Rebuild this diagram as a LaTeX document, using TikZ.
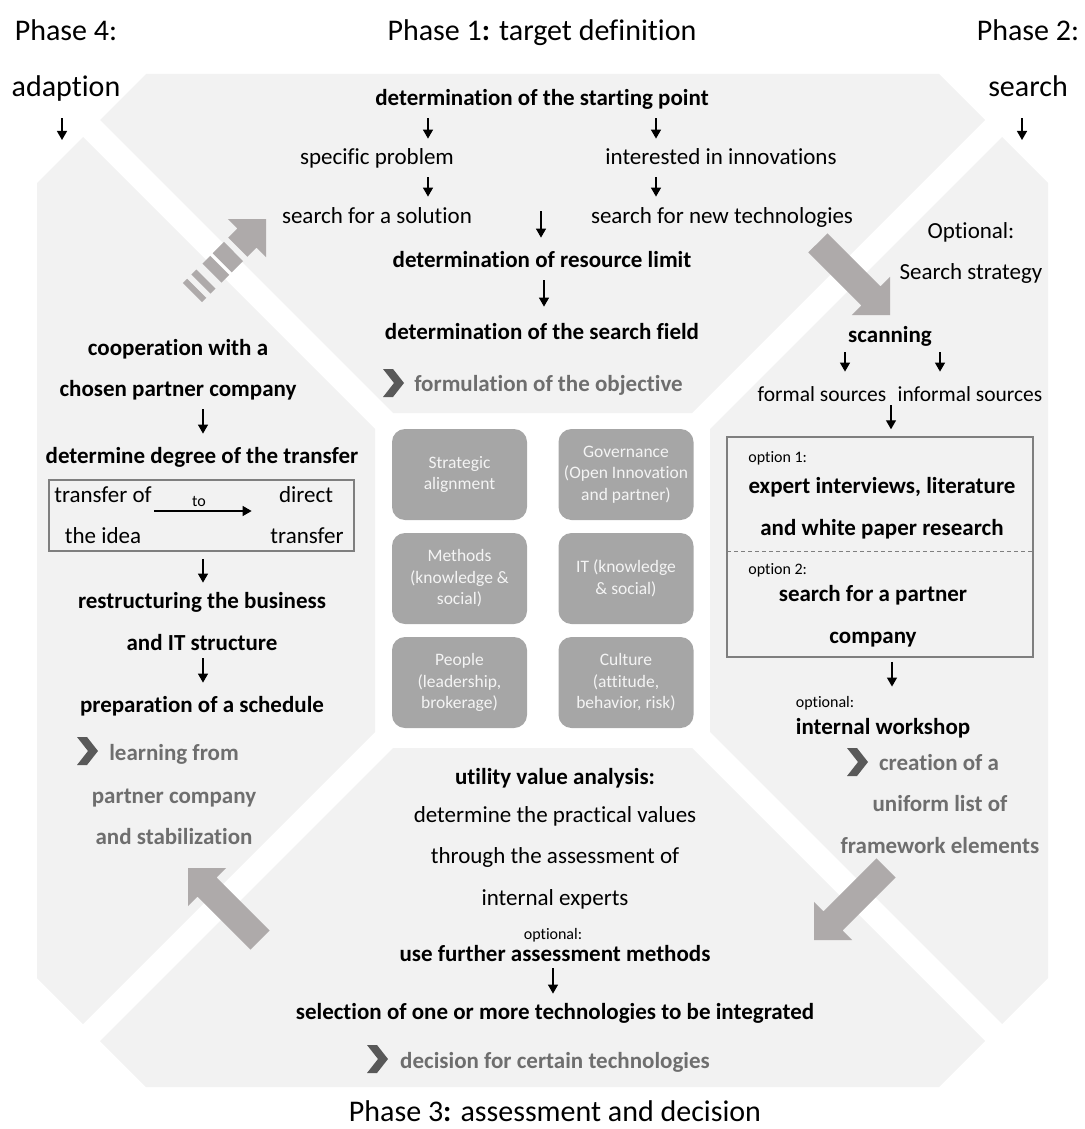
\documentclass[tikz,border=0pt]{standalone}
\usepackage{fontspec}
\setmainfont{Carlito}[Ligatures=NoCommon]
\usetikzlibrary{arrows.meta}

\definecolor{panelgray}{HTML}{F2F2F2}
\definecolor{tilegray}{HTML}{A6A6A6}
\definecolor{tiletext}{HTML}{F4F4F4}
\definecolor{arrowgray}{HTML}{AEAAAA}
\definecolor{chevgray}{HTML}{595959}
\definecolor{graytext}{HTML}{6E6E6E}
\definecolor{frameline}{HTML}{7F7F7F}

\tikzset{
  body/.style={inner sep=0pt, font=\fontsize{11.5}{14}\selectfont, text height=9.5pt, text depth=1pt},
  bodyb/.style={body, font=\fontsize{11.5}{14}\selectfont\bfseries},
  bodysm/.style={body, font=\fontsize{10.75}{13}\selectfont},
  grayb/.style={bodyb, text=graytext},
  small/.style={inner sep=0pt, font=\fontsize{8}{10}\selectfont, text height=7pt, text depth=0.25pt},
  phase/.style={inner sep=0pt, font=\fontsize{15}{18}\selectfont, text height=11.75pt, text depth=1.25pt},
  tile/.style={fill=tilegray, text=tiletext, rounded corners=6.5pt, minimum width=67.5pt,
    minimum height=45.5pt, inner sep=0pt, align=center, font=\fontsize{8.75}{10.75}\selectfont},
  frame/.style={draw=frameline, line width=0.75pt, inner sep=0pt},
  arr/.style={line width=0.65pt, -{Triangle[length=4.5pt,width=5pt]}, shorten <=5.25pt, shorten >=3.5pt},
  panel/.style={fill=panelgray},
  bigarrow/.style={fill=arrowgray},
  chev/.style={fill=chevgray},
  divider/.style={draw=frameline, line width=0.5pt, dash pattern=on 2pt off 1.5pt},
}

\begin{document}
\begin{tikzpicture}[x=0.5pt, y=-0.5pt]
\useasboundingbox (0,0) rectangle (1084,1129);

% ---- the four phase panels ----
\fill[panel] (146,74) -- (939,74) -- (985,120) -- (692,413) -- (393,413) -- (100,120) -- cycle;
\fill[panel] (1002,137) -- (1048,183) -- (1048,978) -- (1002,1024) -- (710,732) -- (710,429) -- cycle;
\fill[panel] (83,137) -- (37,183) -- (37,978) -- (83,1024) -- (375,732) -- (375,429) -- cycle;
\fill[panel] (146,1087) -- (939,1087) -- (985,1041) -- (692,748) -- (393,748) -- (100,1041) -- cycle;

% ---- block arrows between the phases ----
% phase 1 -> phase 2
\fill[bigarrow] (827.4,233.4) -- (880.4,286.4) -- (890.0,276.8) -- (890,315) -- (851.8,315.0)
  -- (861.3,305.5) -- (808.3,252.4) -- cycle;
% phase 2 -> phase 3
\fill[bigarrow] (895.6,877.4) -- (842.6,930.4) -- (852.2,940.0) -- (814,940) -- (814.0,901.8)
  -- (823.5,911.3) -- (876.5,858.3) -- cycle;
% phase 3 -> phase 4
\fill[bigarrow] (269.6,930.5) -- (216.6,877.5) -- (226.2,868.0) -- (188,868) -- (188.0,906.2)
  -- (197.5,896.6) -- (250.5,949.6) -- cycle;
% phase 4 -> phase 1 (striped)
\fill[bigarrow] (266,219) -- (266.0,257.2) -- (256.5,247.6) -- (247.3,256.8) -- (228.2,237.7)
  -- (237.4,228.5) -- (227.8,219.0) -- cycle;
\fill[bigarrow] (243.0,261.1) -- (231.7,272.4) -- (212.7,253.3) -- (224.0,241.9) -- cycle;
\fill[bigarrow] (229.3,274.9) -- (221.5,282.7) -- (202.4,263.6) -- (210.2,255.8) -- cycle;
\fill[bigarrow] (215.5,288.6) -- (210.5,293.6) -- (191.4,274.5) -- (196.4,269.5) -- cycle;
\fill[bigarrow] (206.3,297.8) -- (202.0,302.0) -- (182.9,283.0) -- (187.2,278.8) -- cycle;

% ---- framework elements in the centre ----
\node[tile] (t1) at (459.5,474.5) {Strategic\\alignment};
\node[tile] (t2) at (626,474.5) {Governance\\(Open Innovation\\and partner)};
\node[tile] (t3) at (459.5,578.5) {Methods\\(knowledge \&\\social)};
\node[tile] (t4) at (626,578.5) {IT (knowledge\\\& social)};
\node[tile] (t5) at (459.5,682.5) {People\\(leadership,\\brokerage)};
\node[tile] (t6) at (626,682.5) {Culture\\(attitude,\\behavior, risk)};

% ---- phase titles ----
\node[phase] (p4a) at (66,30) {Phase 4:};
\node[phase] (p4b) at (66,86) {adaption};
\node[phase] (p1) at (542,30) {Phase 1\textbf{:} target definition};
\node[phase] (p2a) at (1028,30) {Phase 2:};
\node[phase] (p2b) at (1028,86) {search};
\node[phase, text depth=0pt] (p3) at (555,1110) {Phase 3\textbf{:} assessment and decision};
\coordinate (p4in) at (62,140);
\coordinate (p2in) at (1022,140);
\draw[arr, shorten <=9.5pt, shorten >=0pt] (p4b.south -| p4in) -- (p4in);
\draw[arr, shorten <=9.5pt, shorten >=0pt] (p2b.south -| p2in) -- (p2in);

% ---- phase 1: target definition ----
\node[bodyb] (start) at (542,97) {determination of the starting point};
\node[body] (prob) at (377,156) {specific problem};
\node[body] (innov) at (721,156) {interested in innovations};
\node[body] (sol) at (377,215) {search for a solution};
\node[body] (tech) at (722,215) {search for new technologies};
\node[bodyb] (res) at (542,259) {determination of resource limit};
\node[bodyb] (field) at (542,331) {determination of the search field};
\node[grayb] (obj) at (548.5,383) {formulation of the objective};
\fill[chev] (383,369) -- ++(10,0) -- ++(11,14) -- ++(-11,14) -- ++(-10,0) -- ++(11,-14) -- cycle;

\coordinate (cl) at (428,0);
\coordinate (cr) at (656,0);
\coordinate (cm) at (544,0);
\coordinate (merge) at (541,211);
\draw[arr, shorten >=3.25pt] (start.south -| cl) -- (prob.north -| cl);
\draw[arr, shorten >=3.25pt] (start.south -| cr) -- (innov.north -| cr);
\draw[arr, shorten >=3.75pt] (prob.south -| cl) -- (sol.north -| cl);
\draw[arr, shorten >=3.75pt] (innov.south -| cr) -- (tech.north -| cr);
\draw[arr, shorten <=0pt, shorten >=5.25pt] (merge) -- (res.north -| merge);
\draw[arr, shorten >=6.75pt] (res.south -| cm) -- (field.north -| cm);

% ---- phase 2: search ----
\node[body] (opt) at (971,230) {Optional:};
\node[body] (strat) at (971,271) {Search strategy};
\node[bodyb] (scan) at (890,334) {scanning};
\node[bodysm] (formal) at (822,393) {formal sources};
\node[bodysm] (informal) at (970,393) {informal sources};
\coordinate (xf) at (845,0);
\coordinate (xi) at (940,0);
\draw[arr, shorten <=3.75pt, shorten >=5.25pt] (scan.south -| xf) -- (formal.north -| xf);
\draw[arr, shorten <=3.75pt, shorten >=5.25pt] (scan.south -| xi) -- (informal.north -| xi);

\node[frame, minimum width=153pt, minimum height=110pt] (optbox) at (880,547) {};
\draw[divider] (727,551) -- (1033,551);
\coordinate (xo) at (891,0);
\draw[arr, shorten <=0.75pt, shorten >=3.5pt] (formal.south -| xo) -- (optbox.north -| xo);
\node[small, anchor=west] (o1) at (748,456) {option 1:};
\node[bodyb] (o1a) at (882,485) {expert interviews, literature};
\node[bodyb] (o1b) at (882,527) {and white paper research};
\node[small, anchor=west] (o2) at (748,568) {option 2:};
\node[bodyb] (o2a) at (873,593) {search for a partner};
\node[bodyb] (o2b) at (873,635) {company};

\node[small] (wsopt) at (825,701) {optional:};
\node[bodyb] (ws) at (883,726) {internal workshop};
\coordinate (xw) at (892,0);
\draw[arr, shorten <=2pt, shorten >=3.4pt] (optbox.south -| xw) -- (wsopt.north -| xw);
\node[grayb] (ul1) at (939,762) {creation of a};
\node[grayb] (ul2) at (940,803) {uniform list of};
\node[grayb] (ul3) at (940,845) {framework elements};
\fill[chev] (847,748) -- ++(10,0) -- ++(11,14) -- ++(-11,14) -- ++(-10,0) -- ++(11,-14) -- cycle;

% ---- phase 4: adaption ----
\node[bodyb] (coop1) at (178,347) {cooperation with a};
\node[bodyb] (coop2) at (178,388) {chosen partner company};
\node[bodyb] (degree) at (202,455) {determine degree of the transfer};
\node[frame, minimum width=152.5pt, minimum height=35.5pt] (tbox) at (201.5,515.5) {};
\node[body] (idea1) at (103,494) {transfer of};
\node[body] (idea2) at (103,535) {the idea};
\node[body] (dir1) at (306,494) {direct};
\node[body] (dir2) at (307,535) {transfer};
\node[small] (tolbl) at (199,500) {to};
\coordinate (tomid) at (0,511);
\draw[arr, shorten <=1pt, shorten >=13.5pt] (idea1.east |- tomid) -- (dir1.west |- tomid);

\node[bodyb] (rtb1) at (202,600) {restructuring the business};
\node[bodyb] (rtb2) at (202,642) {and IT structure};
\node[bodyb] (sched) at (202,704) {preparation of a schedule};
\coordinate (xl) at (203,0);
\draw[arr, shorten >=5.25pt] (coop2.south -| xl) -- (degree.north -| xl);
\draw[arr, shorten <=3.5pt, shorten >=3.25pt] (tbox.south -| xl) -- (rtb1.north -| xl);
\draw[arr, shorten <=2.75pt, shorten >=5.25pt] (rtb2.south -| xl) -- (sched.north -| xl);
\node[grayb] (learn1) at (174,752) {learning from};
\node[grayb] (learn2) at (174,795) {partner company};
\node[grayb] (learn3) at (174,836) {and stabilization};
\fill[chev] (77,737) -- ++(10,0) -- ++(11,14) -- ++(-11,14) -- ++(-10,0) -- ++(11,-14) -- cycle;

% ---- phase 3: assessment and decision ----
\node[bodyb] (uva) at (555,776) {utility value analysis:};
\node[body] (uv1) at (555,814) {determine the practical values};
\node[body] (uv2) at (555,855) {through the assessment of};
\node[body] (uv3) at (555,897) {internal experts};
\node[small] (fopt) at (553,933) {optional:};
\node[bodyb] (further) at (555,953) {use further assessment methods};
\node[bodyb] (select) at (555,1011) {selection of one or more technologies to be integrated};
\coordinate (xb) at (553,0);
\draw[arr, shorten <=2.25pt, shorten >=3.25pt] (further.south -| xb) -- (select.north -| xb);
\node[grayb] (decide) at (555,1060) {decision for certain technologies};
\fill[chev] (367,1045) -- ++(10,0) -- ++(11,14) -- ++(-11,14) -- ++(-10,0) -- ++(11,-14) -- cycle;

\end{tikzpicture}
\end{document}
